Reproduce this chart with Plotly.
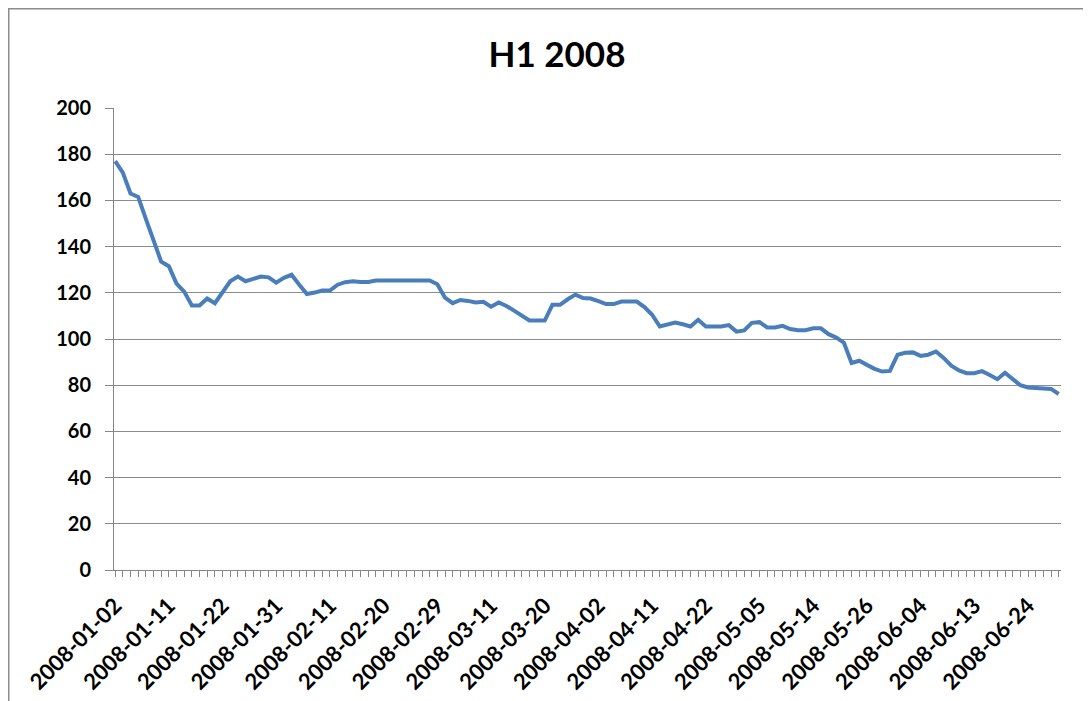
import pandas as pd
import plotly.graph_objects as go

# Trading days H1 2008 (weekdays minus market holidays)
holidays = ["2008-01-01", "2008-03-21", "2008-03-24", "2008-04-25", "2008-05-01", "2008-05-22"]
dates = [d.strftime("%Y-%m-%d") for d in pd.bdate_range("2008-01-01", "2008-06-30")
         if d.strftime("%Y-%m-%d") not in holidays]

values = [
    177, 172, 163, 161.5, 152, 143, 133.5, 131.5, 124, 120.5,
    114.5, 114.5, 117.5, 115.5, 120, 125, 127, 125, 126, 127,
    126.7, 124.4, 126.5, 127.8, 123.5, 119.5, 120.1, 121, 121, 123.5,
    124.6, 125, 124.7, 124.7, 125.3, 125.3, 125.3, 125.3, 125.3, 125.3,
    125.3, 125.3, 123.7, 117.9, 115.5, 116.9, 116.5, 115.8, 116.1, 114,
    115.8, 114.3, 112.3, 110.3, 108, 108, 108, 114.8, 114.8, 117.2,
    119.2, 117.7, 117.5, 116.4, 115.1, 115.1, 116.2, 116.2, 116.2, 113.8,
    110.5, 105.4, 106.4, 107.1, 106.4, 105.4, 108.3, 105.4, 105.4, 105.4,
    106, 103.2, 103.7, 107, 107.3, 105, 105, 105.7, 104.3, 103.8,
    103.8, 104.6, 104.6, 102.1, 100.6, 98.4, 89.6, 90.6, 88.8, 87.1,
    85.9, 86.2, 93.2, 94, 94.2, 92.7, 93.2, 94.6, 91.8, 88.5,
    86.4, 85.2, 85.2, 86.1, 84.4, 82.6, 85.4, 82.6, 80, 79,
    78.7, 78.4, 78.4, 76.2,
]

title_text = "H1 2008"
y_ticks = [0, 20, 40, 60, 80, 100, 120, 140, 160, 180, 200]
label_step = 7

idx = list(range(len(dates)))
tick_idx = idx[::label_step]
tick_txt = [dates[i] for i in tick_idx]

fig = go.Figure()
fig.add_trace(go.Scatter(
    x=idx, y=values, mode="lines",
    line=dict(color="#4A7EBB", width=4),
    customdata=dates, hovertemplate="%{customdata}: %{y}<extra></extra>",
))

# page has an 8px body margin; figure coords = page coords - 8
OFF = 8
W, H = 1091 - OFF, 701 - OFF
L, R, T, B = 114 - OFF, 1061 - OFF, 108 - OFF, 570 - OFF

fig.update_layout(
    width=W, height=H,
    margin=dict(l=L, r=W - R, t=T, b=H - B, autoexpand=False),
    paper_bgcolor="white", plot_bgcolor="white",
    showlegend=False,
    font=dict(family="Lato, 'Open Sans', sans-serif", color="black"),
    title=dict(text="<b>" + title_text + "</b>", x=(557 - OFF) / W, xanchor="center",
               y=1 - (55 - OFF) / H, yanchor="middle", yref="container",
               font=dict(size=35, color="black", family="Lato")),
    xaxis=dict(
        range=[-0.15, len(dates) - 1 + 0.3],
        tickmode="array", tickvals=tick_idx, ticktext=tick_txt,
        tickangle=-45, tickfont=dict(size=22, family="Lato", color="black", weight="bold"),
        showgrid=False, zeroline=False,
        showline=True, linecolor="#868686", linewidth=1,
        ticks="outside", ticklen=6, tickcolor="#868686",
        ticklabelstandoff=7,
        minor=dict(dtick=1, tick0=0, ticks="outside", ticklen=6, tickcolor="#868686", showgrid=False),
    ),
    yaxis=dict(
        range=[0, 200], tickvals=y_ticks,
        tickfont=dict(size=20, family="Lato", color="black", weight="bold"),
        showgrid=True, gridcolor="#8c8c8c", gridwidth=1,
        zeroline=False,
        showline=True, linecolor="#868686", linewidth=1,
        ticks="outside", ticklen=8, tickcolor="#868686",
        ticklabelstandoff=10,
    ),
    shapes=[dict(type="rect", xref="paper", yref="paper",
                 x0=(0.75 - L) / (R - L), x1=(1081.5 - L) / (R - L),
                 y0=(B - 712) / (B - T), y1=(B - 0.75) / (B - T),
                 line=dict(color="#8c8c8c", width=1.5), layer="below")],
)

fig.write_html("out.html")
